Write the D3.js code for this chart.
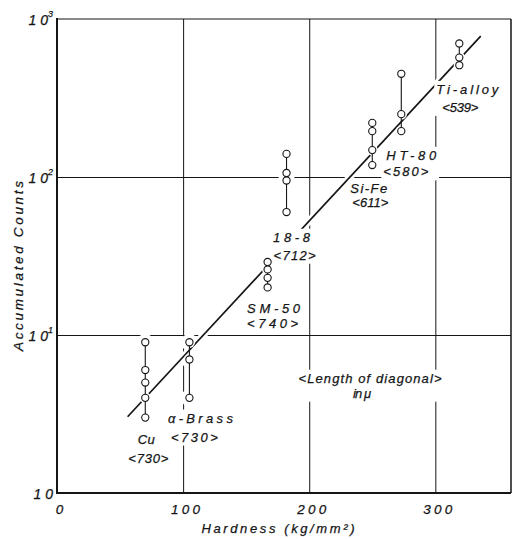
<!DOCTYPE html>
<html><head><meta charset="utf-8">
<script src="https://cdn.jsdelivr.net/npm/d3@7"></script>
<style>
body{margin:0;background:#fff}
text{font-family:"Liberation Sans",Arial,sans-serif;font-style:italic;fill:#151515;stroke:#151515;stroke-width:0.25px}
</style>
</head><body>
<svg id="c" width="517" height="539"></svg>
<script>
// ---- data ----
const materials = ["Cu", "α-Brass", "SM-50", "18-8", "Si-Fe", "HT-80", "Ti-alloy"];
const diagonals = ["<730>", "<730>", "<740>", "<712>", "<611>", "<580>", "<539>"];
const hardness = [70, 105, 167, 182, 250, 273, 319];
const counts = [
  [9, 6, 5, 4, 3],
  [9, 7, 4],
  [29, 26, 23, 20],
  [140, 106, 95, 60],
  [220, 195, 148, 119],
  [450, 250, 195],
  [700, 570, 510]
];
const fitHardness = [56, 336];
const fitCounts = [3.04, 780];
const xTicks = [0, 100, 200, 300];
const yTicks = [1, 10, 100, 1000];
const yTickExponents = ["", "1", "2", "3"];
const xTitle = "Hardness (kg/mm²)";
const yTitle = "Accumulated Counts";
const noteLines = ["<Length of diagonal>", "in μ"];

// ---- layout (pixel offsets / widths for labels) ----
const labelLayout = [
  {dx: 1,  dy: 22, w: 17, ddx: 3,  ddy: 41, dw: 40},
  {dx: 11, dy: 20, w: 65, ddx: 5,  ddy: 39, dw: 47},
  {dx: 6,  dy: 21, w: 53, ddx: 5,  ddy: 36, dw: 51},
  {dx: 5,  dy: 25, w: 37, ddx: 8,  ddy: 43, dw: 42},
  {dx: -3.5, dy: 23, w: 37, ddx: -2, ddy: 37, dw: 36},
  {dx: 10, dy: 24, w: 50, ddx: 4.5, ddy: 40.5, dw: 45},
  {dx: 8,  dy: 24, w: 62, ddx: 1,  ddy: 42, dw: 36}
];

const svg = d3.select("#c");
const X0 = 57, X1 = 511, Y0 = 19, Y1 = 493;
const x = d3.scaleLinear().domain([0, 360]).range([X0, X1]);
const y = d3.scaleLog().domain([1, 1000]).range([Y1, Y0]);
const ink = "#151515";

// ---- grid via axes ----
const gx = svg.append("g").attr("transform", `translate(0,${Y1})`)
  .call(d3.axisBottom(x).tickValues(xTicks).tickSize(-(Y1 - Y0)).tickPadding(8).tickFormat(d3.format("d")));
gx.select(".domain").remove();
gx.selectAll(".tick line").attr("stroke", ink).attr("stroke-width", 1)
  .attr("display", d => (d === 0 ? "none" : null));
gx.selectAll(".tick text").attr("font-size", 13.5).attr("fill", ink)
  .attr("font-family", "Liberation Sans, Arial, sans-serif").attr("font-style", "italic")
  .attr("dy", "0.95em").attr("dx", 2)
  .attr("textLength", d => (d === 0 ? 9 : 29)).attr("lengthAdjust", "spacing");

const gy = svg.append("g").attr("transform", `translate(${X0},0)`)
  .call(d3.axisLeft(y).tickValues(yTicks).tickSize(-(X1 - X0)).tickPadding(0).tickFormat(() => ""));
gy.select(".domain").remove();
gy.selectAll(".tick line").attr("stroke", ink).attr("stroke-width", 1)
  .attr("display", d => (d === 1 || d === 1000 ? "none" : null));
gy.selectAll(".tick").each(function(d, i) {
  const t = d3.select(this).append("text").attr("x", -4).attr("y", 5)
    .attr("text-anchor", "end").attr("font-size", 14).attr("fill", ink);
  const exp = yTickExponents[i];
  t.append("tspan").text("1");
  t.append("tspan").text("0").attr("dx", 4);
  if (exp) t.append("tspan").text(exp).attr("font-size", 9).attr("dy", -8);
});

// ---- layers ----
const haloG = svg.append("g");
const fitG = svg.append("g");
const lblBg = svg.append("g");
const smallHaloG = svg.append("g");
const connG = svg.append("g");
const ptG = svg.append("g");
const lblTx = svg.append("g");

const R = 3.6;
materials.forEach((m, i) => {
  const cx = x(hardness[i]);
  counts[i].forEach(c => {
    haloG.append("circle").attr("cx", cx).attr("cy", y(c)).attr("r", R + 5).attr("fill", "#fff");
  });
});

// fit line with white halo
const fitData = fitHardness.map((h, i) => [h, fitCounts[i]]);
const fitLine = d3.line().x(d => x(d[0])).y(d => y(d[1]));
fitG.append("path").attr("d", fitLine(fitData)).attr("stroke", "#fff").attr("stroke-width", 7).attr("fill", "none");
fitG.append("path").attr("d", fitLine(fitData)).attr("stroke", ink).attr("stroke-width", 1.7).attr("fill", "none");

materials.forEach((m, i) => {
  const cx = x(hardness[i]);
  const vals = counts[i];
  vals.forEach(c => {
    smallHaloG.append("circle").attr("cx", cx).attr("cy", y(c)).attr("r", R + 2).attr("fill", "#fff");
  });
  connG.append("line").attr("x1", cx).attr("x2", cx)
    .attr("y1", y(d3.max(vals))).attr("y2", y(d3.min(vals)))
    .attr("stroke", ink).attr("stroke-width", 1.1);
  ptG.selectAll(null).data(vals).join("circle")
    .attr("cx", cx).attr("cy", c => y(c)).attr("r", R)
    .attr("fill", "#fff").attr("stroke", ink).attr("stroke-width", 1.1);
});

// labels
function addLabel(lines) {
  const texts = lines.map(l => lblTx.append("text").text(l.text)
    .attr("x", l.cx).attr("y", l.cy).attr("dy", "0.36em")
    .attr("text-anchor", "middle").attr("font-size", 13)
    .attr("textLength", l.w).attr("lengthAdjust", "spacing"));
  let bx0 = Infinity, by0 = Infinity, bx1 = -Infinity, by1 = -Infinity;
  texts.forEach(t => {
    const b = t.node().getBBox();
    bx0 = Math.min(bx0, b.x); by0 = Math.min(by0, b.y);
    bx1 = Math.max(bx1, b.x + b.width); by1 = Math.max(by1, b.y + b.height);
  });
  lblBg.append("rect").attr("x", bx0 - 2).attr("y", by0 - 1)
    .attr("width", bx1 - bx0 + 4).attr("height", by1 - by0 + 2).attr("fill", "#fff");
}
materials.forEach((m, i) => {
  const L = labelLayout[i];
  const cx = x(hardness[i]);
  const by = y(d3.min(counts[i]));
  addLabel([
    {text: m, cx: cx + L.dx, cy: by + L.dy, w: L.w},
    {text: diagonals[i], cx: cx + L.ddx, cy: by + L.ddy, w: L.dw}
  ]);
});
addLabel([
  {text: noteLines[0], cx: 370, cy: 378, w: 143},
  {text: noteLines[1], cx: 362, cy: 393, w: 18}
]);

// ---- frame ----
const frame = svg.append("g").attr("fill", "none").attr("stroke", ink);
frame.append("line").attr("x1", X0).attr("x2", X1).attr("y1", Y0).attr("y2", Y0).attr("stroke-width", 1.2);
frame.append("line").attr("x1", X1).attr("x2", X1).attr("y1", Y0).attr("y2", Y1).attr("stroke-width", 1.5);
frame.append("line").attr("x1", X0).attr("x2", X1).attr("y1", Y1).attr("y2", Y1).attr("stroke-width", 2);
frame.append("line").attr("x1", X0).attr("x2", X0).attr("y1", Y0 - 1).attr("y2", Y1 + 1).attr("stroke-width", 2);

// ---- titles ----
svg.append("text").text(xTitle).attr("x", 278).attr("y", 528).attr("dy", "0.36em")
  .attr("text-anchor", "middle").attr("font-size", 13)
  .attr("textLength", 153).attr("lengthAdjust", "spacing");
svg.append("text").text(yTitle)
  .attr("transform", "translate(18,266) rotate(-90)").attr("dy", "0.36em")
  .attr("text-anchor", "middle").attr("font-size", 13.5)
  .attr("textLength", 170).attr("lengthAdjust", "spacing");
</script>
</body></html>
